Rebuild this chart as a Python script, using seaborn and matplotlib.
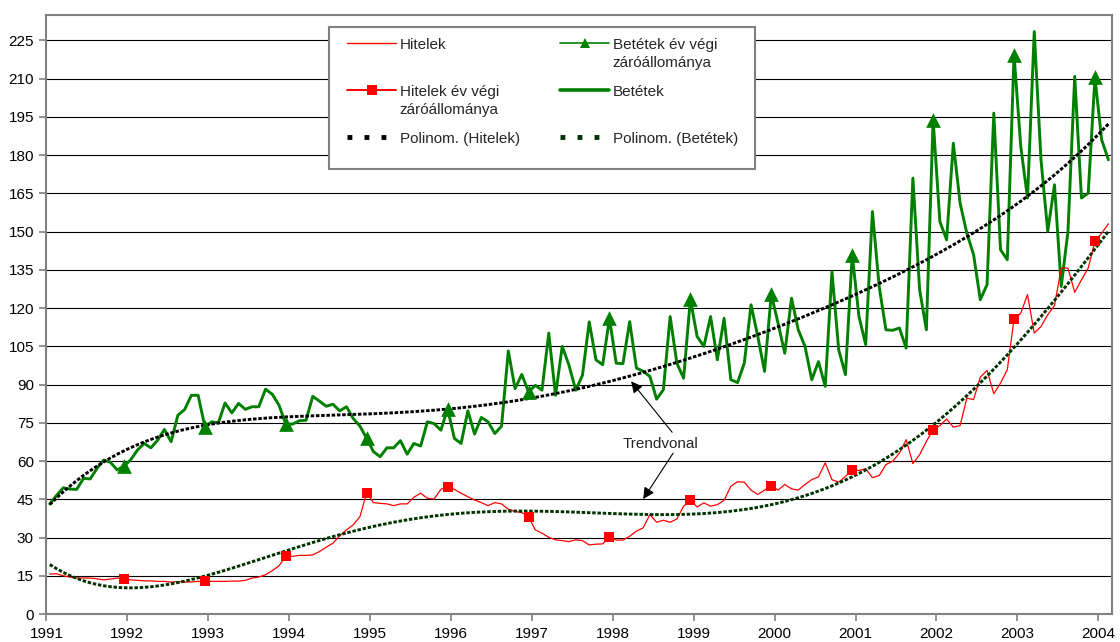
import matplotlib
matplotlib.use("Agg")
import matplotlib.pyplot as plt
from matplotlib.lines import Line2D
from matplotlib.patches import Rectangle
import numpy as np
import pandas as pd
import seaborn as sns
from numpy.polynomial import Polynomial

# havi adatok, 1991 jan - 2004 feb
hitelek = [
    15.7, 15.8, 15.0, 14.5, 14.1, 14.1, 14.1, 13.8, 13.4, 13.7, 14.1, 13.8,
    13.4, 13.2, 13.0, 13.0, 12.8, 12.8, 12.5, 12.7, 12.5, 12.6, 12.8, 12.8,
    12.8, 12.8, 12.8, 12.9, 12.9, 13.2, 14.1, 14.5, 15.4, 17.0, 18.9, 22.6,
    22.6, 23.0, 23.0, 23.2, 24.5, 26.2, 27.8, 30.7, 33.0, 35.0, 38.2, 47.6,
    43.7, 43.4, 43.2, 42.5, 43.2, 43.2, 45.8, 47.4, 45.4, 45.1, 48.9, 50.0,
    48.9, 47.4, 46.0, 44.7, 43.7, 42.5, 43.7, 43.2, 41.1, 40.2, 39.8, 38.2,
    33.0, 31.7, 30.1, 29.1, 28.8, 28.4, 29.1, 28.8, 27.1, 27.4, 27.5, 30.4,
    29.0, 29.0, 30.5, 32.5, 33.8, 39.0, 36.0, 36.8, 36.0, 37.3, 42.3, 44.6,
    42.0, 43.6, 42.3, 42.9, 44.6, 50.1, 51.9, 51.7, 48.6, 46.9, 48.6, 50.4,
    48.6, 50.8, 49.1, 48.6, 50.8, 52.7, 53.8, 59.3, 52.7, 51.7, 54.0, 56.6,
    56.3, 57.0, 53.5, 54.3, 58.6, 59.9, 63.1, 68.4, 59.0, 62.5, 67.7, 72.3,
    73.9, 76.5, 73.3, 73.9, 84.7, 84.1, 92.9, 95.6, 86.4, 90.6, 95.8, 115.8,
    118.0, 125.3, 110.2, 112.8, 117.4, 121.0, 135.7, 135.7, 126.2, 131.1, 135.7, 146.2,
    149.4, 153.1,
]
betetek = [
    43.2, 46.5, 49.5, 49.0, 48.9, 53.2, 53.0, 57.1, 60.4, 59.5, 56.5, 58.0,
    60.5, 64.3, 66.9, 65.2, 68.2, 72.4, 67.6, 78.0, 80.2, 85.8, 85.8, 73.5,
    75.4, 75.0, 82.8, 78.9, 82.6, 80.3, 81.3, 81.3, 88.2, 86.2, 81.9, 74.5,
    74.5, 75.8, 76.0, 85.4, 83.5, 81.5, 82.3, 79.7, 81.3, 76.7, 73.7, 68.9,
    63.7, 61.7, 65.2, 65.2, 68.0, 62.7, 66.9, 65.9, 75.4, 74.7, 72.1, 80.6,
    68.9, 66.9, 79.7, 70.6, 77.1, 75.4, 70.8, 73.7, 103.2, 88.4, 94.0, 87.1,
    89.7, 87.8, 110.2, 85.8, 105.0, 97.6, 87.8, 93.7, 114.6, 99.7, 97.8, 116.0,
    98.4, 98.2, 114.7, 96.5, 95.2, 93.2, 84.3, 88.0, 116.7, 98.4, 92.5, 123.5,
    108.9, 105.0, 116.7, 99.7, 116.0, 91.9, 90.8, 98.4, 121.3, 108.9, 95.2, 125.5,
    114.1, 102.3, 123.9, 111.5, 105.0, 91.9, 99.0, 89.3, 134.3, 103.6, 93.9, 141.0,
    116.8, 105.7, 157.9, 128.5, 111.5, 111.3, 112.2, 104.3, 171.0, 127.2, 111.5, 194.0,
    154.0, 146.8, 184.7, 161.2, 149.4, 141.0, 123.3, 129.2, 196.5, 142.9, 139.0, 219.5,
    183.4, 163.2, 228.5, 178.2, 150.1, 168.4, 128.5, 150.1, 210.9, 163.2, 165.1, 210.5,
    186.0, 178.2,
]

# év végi záróállományok (december)
ev_vegi_evek = list(range(1991, 2004))
hitelek_ev_vegi = [13.8, 12.8, 22.6, 47.6, 50.0, 38.2, 30.4, 44.6, 50.4, 56.6, 72.3, 115.8, 146.2]
betetek_ev_vegi = [58.0, 73.5, 74.5, 68.9, 80.6, 87.1, 116.0, 123.5, 125.5, 141.0, 194.0, 219.5, 210.5]

y_ticks = list(range(0, 226, 15))
x_ticks = list(range(1991, 2005))

PIROS = "#FF0000"
ZOLD = "#008000"
SOTETZOLD = "#003300"
SZURKE = "#808080"
W, H = 1120, 642  # figure size in pixels

sns.set_style("white")
plt.rcParams["font.family"] = ["Liberation Sans", "DejaVu Sans"]
plt.rcParams["font.size"] = 11

# category positions: each month sits in the middle of its slot
idx = np.arange(len(hitelek))
df = pd.DataFrame({
    "ev": 1991 + (idx + 0.5) / 12,
    "hitelek": hitelek,
    "betetek": betetek,
})
ev_df = pd.DataFrame({
    "ev": np.array(ev_vegi_evek) + 11.5 / 12,
    "hitelek": hitelek_ev_vegi,
    "betetek": betetek_ev_vegi,
})

# polynomial trendlines (Excel "Polinom.", 5th order fits the picture)
df["trend_b"] = Polynomial.fit(idx, df["betetek"], 5)(idx)
df["trend_h"] = Polynomial.fit(idx, df["hitelek"], 5)(idx)

fig = plt.figure(figsize=(W / 100, H / 100), dpi=100)
ax = fig.add_axes([46.4 / W, 1 - 614 / H, (1111.8 - 46.4) / W, (614 - 15) / H])

ax.set_axisbelow(True)
ax.yaxis.grid(True, color="black", lw=0.8)
ax.xaxis.grid(False)

sns.lineplot(data=df, x="ev", y="betetek", color=ZOLD, lw=2.1, estimator=None, ax=ax)
sns.lineplot(data=df, x="ev", y="hitelek", color=PIROS, lw=0.9, estimator=None, ax=ax)
sns.lineplot(data=df, x="ev", y="trend_b", color="black", lw=2.1,
             linestyle=(0, (1.2, 0.6)), estimator=None, ax=ax)
sns.lineplot(data=df, x="ev", y="trend_h", color=SOTETZOLD, lw=2.1,
             linestyle=(0, (1.2, 0.6)), estimator=None, ax=ax)
sns.scatterplot(data=ev_df, x="ev", y="betetek", marker="^", s=112, color=ZOLD,
                edgecolor=ZOLD, linewidth=0, zorder=5, ax=ax)
sns.scatterplot(data=ev_df, x="ev", y="hitelek", marker="s", s=55, color=PIROS,
                edgecolor=PIROS, linewidth=0, zorder=5, ax=ax)

ax.set_xlim(1991, 1991 + len(hitelek) / 12)
ax.set_ylim(0, 235)
ax.set_xticks(x_ticks)
ax.set_yticks(y_ticks)
ax.set_xlabel("")
ax.set_ylabel("")
ax.tick_params(axis="both", which="major", bottom=True, left=True, direction="out",
               length=5, width=1.2, color=SZURKE, labelsize=11, labelcolor="black", pad=4)
for s in ax.spines.values():
    s.set_visible(True)
    s.set_color(SZURKE)
    s.set_linewidth(1.5)

# Trendvonal annotation
ax.text(1998.585, 66.6, "Trendvonal", ha="center", va="center", fontsize=11)
for head, tail in [((1998.226, 91.3), (1998.733, 71.3)), ((1998.375, 45.1), (1998.745, 63.1))]:
    ax.annotate("", xy=head, xytext=tail,
                arrowprops=dict(arrowstyle="-|>", color="black", lw=0.8,
                                mutation_scale=17, shrinkA=0, shrinkB=0))

# legend box drawn separately (Excel pads it more below than above)
ax.add_patch(Rectangle((329.3 / W, 1 - 169.3 / H), (755 - 329.3) / W, (169.3 - 26.7) / H,
                       transform=fig.transFigure, facecolor="white", edgecolor=SZURKE,
                       lw=1.5, zorder=4.9, clip_on=False))

# legend, column order like the reference
handles = [
    Line2D([], [], color=PIROS, lw=1.0),
    Line2D([], [], color=PIROS, lw=1.4, marker="s", markersize=7, markeredgewidth=0),
    Line2D([], [], color="black", lw=3.5, linestyle=(0, (1, 2.5))),
    Line2D([], [], color=ZOLD, lw=1.2, marker="^", markersize=7.5, markeredgewidth=0),
    Line2D([], [], color=ZOLD, lw=2.6),
    Line2D([], [], color=SOTETZOLD, lw=3.5, linestyle=(0, (1, 2.5))),
]
labels = [
    "Hitelek\n ",
    "Hitelek év végi\nzáróállománya",
    "Polinom. (Hitelek)",
    "Betétek év végi\nzáróállománya",
    "Betétek\n ",
    "Polinom. (Betétek)",
]
leg = ax.legend(handles, labels, ncol=2, loc="upper left",
                bbox_to_anchor=(347.3 / W, 1 - 37.8 / H), bbox_transform=fig.transFigure,
                borderaxespad=0, borderpad=0, fontsize=11, frameon=False,
                handlelength=3.2, handletextpad=0.22, columnspacing=2.66, labelspacing=1.0)
leg.set_zorder(5)
for t in leg.get_texts():
    t.set_linespacing(1.35)
# put the handle on the first text line
for col in leg._legend_handle_box.get_children():
    for item in col.get_children():
        item.align = "top"

fig.savefig("out.png", dpi=100, facecolor="white")
